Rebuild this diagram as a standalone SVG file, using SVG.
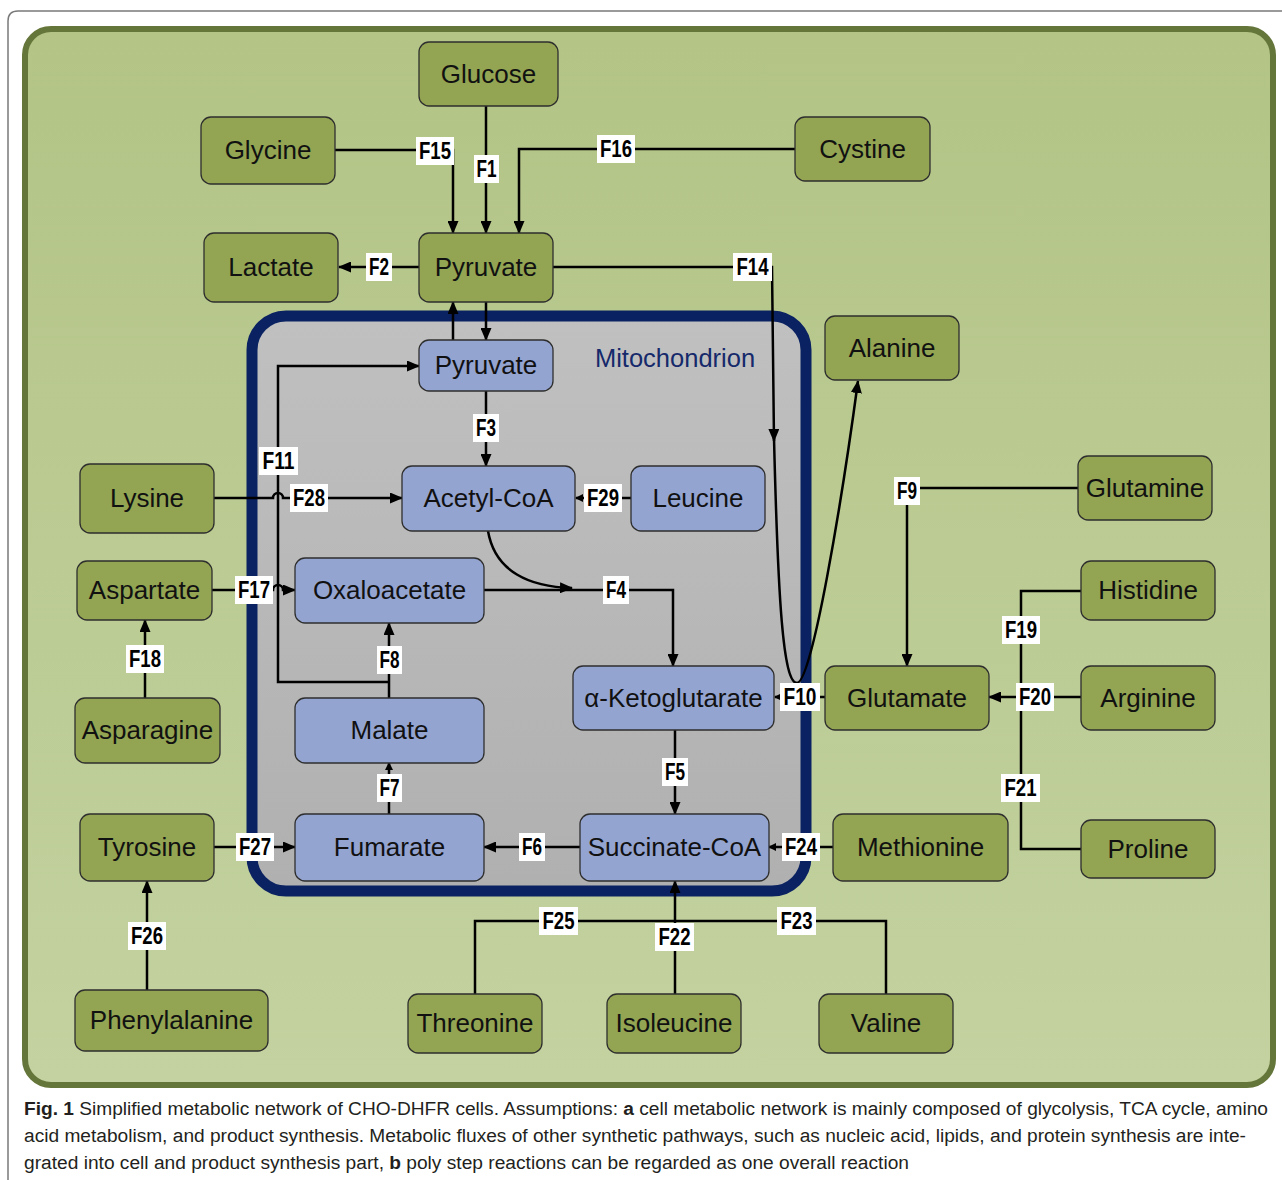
<svg xmlns="http://www.w3.org/2000/svg" width="1282" height="1180" viewBox="0 0 1282 1180">
<defs>
<linearGradient id="gbg" x1="0" y1="0" x2="0" y2="1"><stop offset="0" stop-color="#b3c486"/><stop offset="1" stop-color="#c3d2a0"/></linearGradient>
<linearGradient id="mbg" x1="0" y1="0" x2="0" y2="1"><stop offset="0" stop-color="#c0c0c0"/><stop offset="1" stop-color="#b0b0b0"/></linearGradient>
<marker id="arr" markerWidth="13" markerHeight="11" refX="12" refY="5.5" orient="auto" markerUnits="userSpaceOnUse"><path d="M0,0 L13,5.5 L0,11 z" fill="#000"/></marker>
<marker id="sarr" markerWidth="8" markerHeight="8" refX="7" refY="4" orient="auto" markerUnits="userSpaceOnUse"><path d="M0,0 L8,4 L0,8 z" fill="#000"/></marker>
<style>
.g rect{fill:#93a552;stroke:#2e2e2e;stroke-width:1.3}
.b rect{fill:#94a4d1;stroke:#2e2e2e;stroke-width:1.3}
.nt{font-family:"Liberation Sans",Arial,sans-serif;font-size:26px;fill:#111;text-anchor:middle}
.c{fill:none;stroke:#000;stroke-width:2.5}
.a{marker-end:url(#arr)}
.s{marker-end:url(#sarr)}
.lb rect{fill:#fff}
.lb text{font-family:"Liberation Sans",Arial,sans-serif;font-weight:bold;font-size:23px;fill:#000;text-anchor:middle}
.cap{font-family:"Liberation Sans",Arial,sans-serif;font-size:18px;fill:#231f20}
</style>
</defs>
<rect width="1282" height="1180" fill="#fff"/>
<path d="M1282,11 H18 Q8,11 8,21 V1180" fill="none" stroke="#7a7a7a" stroke-width="1.5"/>
<rect x="25" y="29" width="1248" height="1056" rx="26" fill="url(#gbg)" stroke="#65763a" stroke-width="6"/>
<rect x="252" y="316" width="554" height="575" rx="34" fill="url(#mbg)" stroke="#0b2262" stroke-width="11"/>
<text x="675" y="367" font-family="Liberation Sans,Arial,sans-serif" font-size="25.5" fill="#15296b" text-anchor="middle">Mitochondrion</text>

<g id="connectors">
<path class="c a" d="M486,106 V233"/>
<path class="c a" d="M335,150 H453 V233"/>
<path class="c a" d="M795,149 H519 V233"/>
<path class="c a" d="M419,267 H339"/>
<path class="c a" d="M486,302 V340"/>
<path class="c a" d="M453,340 V302"/>
<path class="c a" d="M553,267 H772 L774,441"/>
<path class="c a" d="M774,438 C778,600 783,683 797,683 C812,683 842,500 858,381" stroke-width="2.2"/>
<path class="c a" d="M486,391 V466"/>
<path class="c a" d="M389,682 H278 V366 H419"/>
<path class="c a" d="M389,698 V623"/>
<path class="c a" d="M214,498 H273 A5,5 0 0 1 283,498 H402"/>
<path class="c s" d="M631,498 H576"/>
<path class="c a" d="M488,531 C495,572 530,587 572,588"/>
<path class="c a" d="M484,590 H673 V666"/>
<path class="c a" d="M675,730 V814"/>
<path class="c a" d="M580,847 H484"/>
<path class="c s" d="M389,814 V763"/>
<path class="c s" d="M825,697 H775"/>
<path class="c a" d="M1078,488 H907 V666"/>
<path class="c" d="M1081,591 H1021 V849 H1081"/>
<path class="c a" d="M1081,697 H989"/>
<path class="c s" d="M833,847 H769"/>
<path class="c" d="M475,994 V921 H886 V994"/>
<path class="c a" d="M675,994 V881"/>
<path class="c a" d="M212,590 H273 A5,5 0 0 1 283,590 H295"/>
<path class="c a" d="M145,698 V620"/>
<path class="c a" d="M214,847 H295"/>
<path class="c a" d="M147,990 V881"/>
<g class="lb">
<rect x="416" y="137" width="38" height="28"/><text x="435" y="159" textLength="32" lengthAdjust="spacingAndGlyphs">F15</text>
<rect x="474" y="155" width="25" height="28"/><text x="486.5" y="177" textLength="20" lengthAdjust="spacingAndGlyphs">F1</text>
<rect x="597" y="135" width="38" height="28"/><text x="616" y="157" textLength="32" lengthAdjust="spacingAndGlyphs">F16</text>
<rect x="366" y="253" width="26" height="28"/><text x="379" y="275" textLength="20" lengthAdjust="spacingAndGlyphs">F2</text>
<rect x="733" y="253" width="39" height="28"/><text x="752.5" y="275" textLength="32" lengthAdjust="spacingAndGlyphs">F14</text>
<rect x="473" y="414" width="26" height="28"/><text x="486" y="436" textLength="20" lengthAdjust="spacingAndGlyphs">F3</text>
<rect x="259" y="447" width="39" height="28"/><text x="278.5" y="469" textLength="32" lengthAdjust="spacingAndGlyphs">F11</text>
<rect x="290" y="484" width="38" height="28"/><text x="309" y="506" textLength="32" lengthAdjust="spacingAndGlyphs">F28</text>
<rect x="584" y="484" width="38" height="28"/><text x="603" y="506" textLength="32" lengthAdjust="spacingAndGlyphs">F29</text>
<rect x="603" y="576" width="26" height="28"/><text x="616" y="598" textLength="20" lengthAdjust="spacingAndGlyphs">F4</text>
<rect x="235" y="576" width="38" height="28"/><text x="254" y="598" textLength="32" lengthAdjust="spacingAndGlyphs">F17</text>
<rect x="126" y="645" width="38" height="28"/><text x="145" y="667" textLength="32" lengthAdjust="spacingAndGlyphs">F18</text>
<rect x="377" y="646" width="25" height="28"/><text x="389.5" y="668" textLength="20" lengthAdjust="spacingAndGlyphs">F8</text>
<rect x="894" y="477" width="26" height="28"/><text x="907" y="499" textLength="20" lengthAdjust="spacingAndGlyphs">F9</text>
<rect x="1002" y="616" width="38" height="28"/><text x="1021" y="638" textLength="32" lengthAdjust="spacingAndGlyphs">F19</text>
<rect x="780" y="683" width="40" height="28"/><text x="800" y="705" textLength="33" lengthAdjust="spacingAndGlyphs">F10</text>
<rect x="1016" y="683" width="38" height="28"/><text x="1035" y="705" textLength="32" lengthAdjust="spacingAndGlyphs">F20</text>
<rect x="662" y="758" width="26" height="28"/><text x="675" y="780" textLength="20" lengthAdjust="spacingAndGlyphs">F5</text>
<rect x="377" y="774" width="25" height="28"/><text x="389.5" y="796" textLength="20" lengthAdjust="spacingAndGlyphs">F7</text>
<rect x="1001" y="774" width="39" height="28"/><text x="1020.5" y="796" textLength="32" lengthAdjust="spacingAndGlyphs">F21</text>
<rect x="236" y="833" width="38" height="28"/><text x="255" y="855" textLength="32" lengthAdjust="spacingAndGlyphs">F27</text>
<rect x="519" y="833" width="26" height="28"/><text x="532" y="855" textLength="20" lengthAdjust="spacingAndGlyphs">F6</text>
<rect x="782" y="833" width="38" height="28"/><text x="801" y="855" textLength="32" lengthAdjust="spacingAndGlyphs">F24</text>
<rect x="539" y="907" width="39" height="28"/><text x="558.5" y="929" textLength="32" lengthAdjust="spacingAndGlyphs">F25</text>
<rect x="655" y="923" width="39" height="28"/><text x="674.5" y="945" textLength="32" lengthAdjust="spacingAndGlyphs">F22</text>
<rect x="777" y="907" width="39" height="28"/><text x="796.5" y="929" textLength="32" lengthAdjust="spacingAndGlyphs">F23</text>
<rect x="128" y="922" width="38" height="28"/><text x="147" y="944" textLength="32" lengthAdjust="spacingAndGlyphs">F26</text>
</g>
</g>

<g id="glucose" class="g"><rect x="419" y="42" width="139" height="64" rx="10"/><text class="nt" x="488.5" y="83">Glucose</text></g>
<g id="glycine" class="g"><rect x="201" y="117" width="134" height="67" rx="10"/><text class="nt" x="268" y="159">Glycine</text></g>
<g id="cystine" class="g"><rect x="795" y="117" width="135" height="64" rx="10"/><text class="nt" x="862.5" y="158">Cystine</text></g>
<g id="lactate" class="g"><rect x="204" y="233" width="134" height="69" rx="10"/><text class="nt" x="271" y="276">Lactate</text></g>
<g id="pyruvate-cyto" class="g"><rect x="419" y="233" width="134" height="69" rx="10"/><text class="nt" x="486" y="276">Pyruvate</text></g>
<g id="alanine" class="g"><rect x="825" y="316" width="134" height="64" rx="10"/><text class="nt" x="892" y="357">Alanine</text></g>
<g id="glutamine" class="g"><rect x="1078" y="456" width="134" height="64" rx="10"/><text class="nt" x="1145" y="497">Glutamine</text></g>
<g id="lysine" class="g"><rect x="80" y="464" width="134" height="69" rx="10"/><text class="nt" x="147" y="507">Lysine</text></g>
<g id="aspartate" class="g"><rect x="77" y="561" width="135" height="59" rx="10"/><text class="nt" x="144.5" y="599">Aspartate</text></g>
<g id="histidine" class="g"><rect x="1081" y="561" width="134" height="59" rx="10"/><text class="nt" x="1148" y="599">Histidine</text></g>
<g id="asparagine" class="g"><rect x="75" y="698" width="145" height="65" rx="10"/><text class="nt" x="147.5" y="739">Asparagine</text></g>
<g id="glutamate" class="g"><rect x="825" y="666" width="164" height="64" rx="10"/><text class="nt" x="907" y="707">Glutamate</text></g>
<g id="arginine" class="g"><rect x="1081" y="666" width="134" height="64" rx="10"/><text class="nt" x="1148" y="707">Arginine</text></g>
<g id="tyrosine" class="g"><rect x="80" y="814" width="134" height="67" rx="10"/><text class="nt" x="147" y="856">Tyrosine</text></g>
<g id="methionine" class="g"><rect x="833" y="814" width="175" height="67" rx="10"/><text class="nt" x="920.5" y="856">Methionine</text></g>
<g id="proline" class="g"><rect x="1081" y="820" width="134" height="58" rx="10"/><text class="nt" x="1148" y="858">Proline</text></g>
<g id="phenylalanine" class="g"><rect x="75" y="990" width="193" height="61" rx="10"/><text class="nt" x="171.5" y="1029">Phenylalanine</text></g>
<g id="threonine" class="g"><rect x="408" y="994" width="134" height="59" rx="10"/><text class="nt" x="475" y="1032">Threonine</text></g>
<g id="isoleucine" class="g"><rect x="607" y="994" width="134" height="59" rx="10"/><text class="nt" x="674" y="1032">Isoleucine</text></g>
<g id="valine" class="g"><rect x="819" y="994" width="134" height="59" rx="10"/><text class="nt" x="886" y="1032">Valine</text></g>

<g id="pyruvate-mito" class="b"><rect x="419" y="340" width="134" height="51" rx="10"/><text class="nt" x="486" y="374">Pyruvate</text></g>
<g id="acetyl-coa" class="b"><rect x="402" y="466" width="173" height="65" rx="10"/><text class="nt" x="488.5" y="507">Acetyl-CoA</text></g>
<g id="leucine" class="b"><rect x="631" y="466" width="134" height="65" rx="10"/><text class="nt" x="698" y="507">Leucine</text></g>
<g id="oxaloacetate" class="b"><rect x="295" y="558" width="189" height="65" rx="10"/><text class="nt" x="389.5" y="599">Oxaloacetate</text></g>
<g id="malate" class="b"><rect x="295" y="698" width="189" height="65" rx="10"/><text class="nt" x="389.5" y="739">Malate</text></g>
<g id="fumarate" class="b"><rect x="295" y="814" width="189" height="67" rx="10"/><text class="nt" x="389.5" y="856">Fumarate</text></g>
<g id="a-ketoglutarate" class="b"><rect x="573" y="666" width="201" height="64" rx="10"/><text class="nt" x="673.5" y="707">α-Ketoglutarate</text></g>
<g id="succinate-coa" class="b"><rect x="580" y="814" width="189" height="67" rx="10"/><text class="nt" x="674.5" y="856">Succinate-CoA</text></g>

<g id="caption">
<text class="cap" x="24" y="1115" textLength="1244" lengthAdjust="spacingAndGlyphs"><tspan font-weight="bold">Fig. 1</tspan>  Simplified metabolic network of CHO-DHFR cells. Assumptions: <tspan font-weight="bold">a</tspan> cell metabolic network is mainly composed of glycolysis, TCA cycle, amino</text>
<text class="cap" x="24" y="1142" textLength="1222" lengthAdjust="spacingAndGlyphs">acid metabolism, and product synthesis. Metabolic fluxes of other synthetic pathways, such as nucleic acid, lipids, and protein synthesis are inte-</text>
<text class="cap" x="24" y="1169" textLength="885" lengthAdjust="spacingAndGlyphs">grated into cell and product synthesis part, <tspan font-weight="bold">b</tspan> poly step reactions can be regarded as one overall reaction</text>
</g>
</svg>
